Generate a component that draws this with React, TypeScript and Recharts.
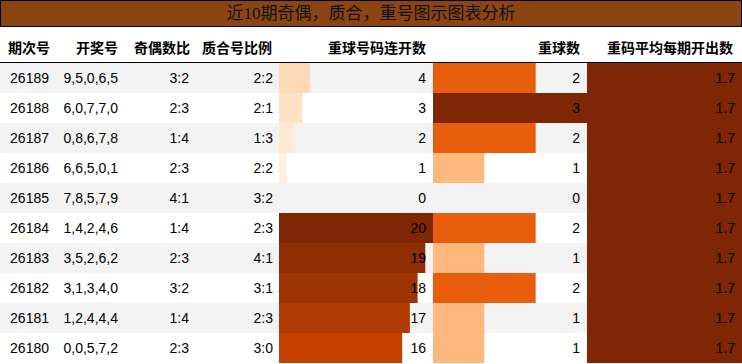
import React from 'react';
import { ComposedChart, BarChart, Bar, Cell, XAxis, YAxis, ReferenceArea } from 'recharts';

const periods = ['26189', '26188', '26187', '26186', '26185', '26184', '26183', '26182', '26181', '26180'];
const draws = ['9,5,0,6,5', '6,0,7,7,0', '0,8,6,7,8', '6,6,5,0,1', '7,8,5,7,9', '1,4,2,4,6', '3,5,2,6,2', '3,1,3,4,0', '1,2,4,4,4', '0,0,5,7,2'];
const oddEven = ['3:2', '2:3', '1:4', '2:3', '4:1', '1:4', '2:3', '3:2', '1:4', '2:3'];
const primeComposite = ['2:2', '2:1', '1:3', '2:2', '3:2', '2:3', '4:1', '3:1', '2:3', '3:0'];
const streak = [4, 3, 2, 1, 0, 20, 19, 18, 17, 16];
const repeatCount = [2, 3, 2, 1, 0, 2, 1, 2, 1, 1];
const avgRepeat = [1.7, 1.7, 1.7, 1.7, 1.7, 1.7, 1.7, 1.7, 1.7, 1.7];

const headers = ['期次号', '开奖号', '奇偶数比', '质合号比例', '重球号码连开数', '重球数', '重码平均每期开出数'];
const headerRight = [50, 118, 190, 272, 426, 580, 733];
const textRight = [49, 118, 189, 273];

const rows = periods.map((p, i) => ({
  period: p,
  draw: draws[i],
  oddEven: oddEven[i],
  primeComposite: primeComposite[i],
  streak: streak[i],
  repeatCount: repeatCount[i],
  avgRepeat: avgRepeat[i],
}));

// colorbrewer Oranges, 9 stops
const oranges = ['#fff5eb', '#fee6ce', '#fdd0a2', '#fdae6b', '#fd8d3c', '#f16913', '#d94801', '#a63603', '#7f2704'];
const hex = (c: string) => [1, 3, 5].map((k) => parseInt(c.slice(k, k + 2), 16));
const orangeAt = (t: number) => {
  const s = Math.max(0, Math.min(1, t)) * (oranges.length - 1);
  const i = Math.min(Math.floor(s), oranges.length - 2);
  const f = s - i;
  const a = hex(oranges[i]);
  const b = hex(oranges[i + 1]);
  const c = a.map((v, k) => Math.round(v + (b[k] - v) * f));
  return `rgb(${c[0]},${c[1]},${c[2]})`;
};

const FONT = '"Liberation Sans", Arial, sans-serif';
const ROW_TOP = 63;
const BODY_H = 300;

const renderRowText = (props: any) => {
  const { y, payload } = props;
  const i = periods.indexOf(String(payload.value));
  const cells = [periods[i], draws[i], oddEven[i], primeComposite[i]];
  return (
    <g>
      {cells.map((t, k) => (
        <text key={k} x={textRight[k]} y={y} dy={5} textAnchor="end" fontSize={14} fontFamily={FONT} fill="#000">
          {t}
        </text>
      ))}
    </g>
  );
};

const BarColumn = ({ left, width, dataKey, max, fmt }: any) => {
  const renderValue = (p: any) => {
    const i = periods.indexOf(String(p.payload.value));
    return (
      <text x={width - 7} y={p.y} dy={5} textAnchor="end" fontSize={14} fontFamily={FONT} fill="#000">
        {fmt((rows[i] as any)[dataKey])}
      </text>
    );
  };
  // the value axis takes 1px on the right, so the svg is 1px wider than the column
  return (
    <div style={{ position: 'absolute', left, top: ROW_TOP }}>
      <BarChart width={width + 1} height={BODY_H} data={rows} layout="vertical" margin={{ top: 0, right: 0, bottom: 0, left: 0 }} barCategoryGap={0} barGap={0}>
        <XAxis type="number" domain={[0, max]} hide />
        <YAxis type="category" dataKey="period" hide />
        <Bar dataKey={dataKey} isAnimationActive={false}>
          {rows.map((r: any, i) => (
            <Cell key={i} fill={orangeAt(r[dataKey] / max)} />
          ))}
        </Bar>
        <YAxis yAxisId="val" type="category" dataKey="period" orientation="right" width={1} axisLine={false} tickLine={false} interval={0} tick={renderValue} />
      </BarChart>
    </div>
  );
};

export default function App() {
  return (
    <div style={{ position: 'absolute', left: 0, top: 0, width: 742, height: 364, background: '#fff', overflow: 'hidden' }}>
      <div
        style={{
          position: 'absolute', left: 0, top: 0, width: 742, height: 27, boxSizing: 'border-box',
          border: '1px solid #000', background: '#8B4513', textAlign: 'center',
          fontFamily: '"Liberation Serif", "Noto Sans CJK SC", serif', fontSize: 17, lineHeight: '25px', color: '#111',
        }}
      >
        近10期奇偶，质合，重号图示图表分析
      </div>
      {headers.map((h, k) => (
        <div
          key={h}
          style={{
            position: 'absolute', left: 0, top: 36, width: headerRight[k], textAlign: 'right',
            fontFamily: '"Noto Sans CJK SC", sans-serif', fontWeight: 'bold', fontSize: 14, lineHeight: '22px', color: '#000',
          }}
        >
          {h}
        </div>
      ))}
      <div style={{ position: 'absolute', left: 0, top: 62, width: 742, height: 1, background: '#000' }} />
      <div style={{ position: 'absolute', left: 0, top: ROW_TOP }}>
        <ComposedChart width={743} height={BODY_H} data={rows} layout="vertical" margin={{ top: 0, right: 0, bottom: 0, left: -1 }} barCategoryGap={0}>
          {periods.filter((_, i) => i % 2 === 0).map((p) => (
            <ReferenceArea key={p} y1={p} y2={p} fill="#f3f3f3" fillOpacity={1} stroke="none" ifOverflow="visible" />
          ))}
          <XAxis type="number" domain={[0, 20]} hide />
          <YAxis type="category" dataKey="period" width={1} axisLine={false} tickLine={false} interval={0} tick={renderRowText} />
          <Bar dataKey="streak" fillOpacity={0} isAnimationActive={false} />
        </ComposedChart>
      </div>
      <BarColumn left={279} width={154} dataKey="streak" max={20} fmt={(v: number) => String(v)} />
      <BarColumn left={433} width={154} dataKey="repeatCount" max={3} fmt={(v: number) => String(v)} />
      <BarColumn left={587} width={155} dataKey="avgRepeat" max={1.7} fmt={(v: number) => v.toFixed(1)} />
    </div>
  );
}
